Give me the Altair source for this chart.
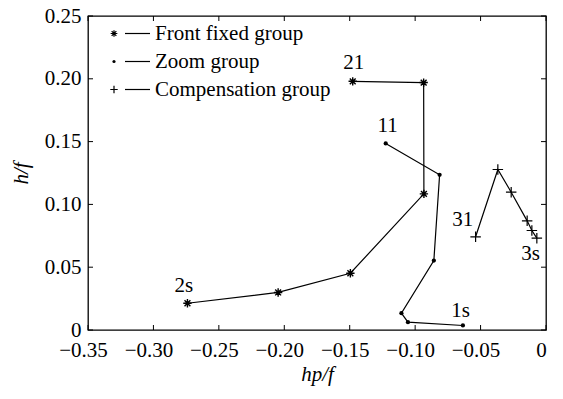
import altair as alt
import pandas as pd

# ---- data ----
front_x = [-0.274, -0.2047, -0.1495, -0.0933, -0.0935, -0.1477]
front_y = [0.0213, 0.0299, 0.0452, 0.1084, 0.197, 0.198]
zoom_x = [-0.1225, -0.0813, -0.0857, -0.1105, -0.1055, -0.0635]
zoom_y = [0.1485, 0.1236, 0.0553, 0.0134, 0.0062, 0.0036]
comp_x = [-0.0538, -0.0368, -0.0266, -0.0144, -0.0108, -0.0070]
comp_y = [0.0742, 0.1278, 0.1097, 0.0869, 0.0792, 0.0731]

label_text = ["2s", "21", "11", "1s", "31", "3s"]
label_x = [-0.2767, -0.147, -0.121, -0.0653, -0.0637, -0.0118]
label_y = [0.0354, 0.2122, 0.1623, 0.0155, 0.0872, 0.0609]

x_ticks = [-0.35, -0.30, -0.25, -0.20, -0.15, -0.10, -0.05, 0.0]
y_ticks = [0.0, 0.05, 0.10, 0.15, 0.20, 0.25]
legend_names = ["Front fixed group", "Zoom group", "Compensation group"]

W, H = 458, 314
FONT = "Liberation Serif"
FS = 21

ASTERISK = "M-1,0L1,0M0,-1L0,1M-0.7,-0.7L0.7,0.7M-0.7,0.7L0.7,-0.7"
PLUS = "M-1,0L1,0M0,-1L0,1"

rows = []
for g, xs_, ys_ in [("front", front_x, front_y), ("zoom", zoom_x, zoom_y), ("comp", comp_x, comp_y)]:
    for i, (a, b) in enumerate(zip(xs_, ys_)):
        rows.append({"group": g, "idx": i, "x": a, "y": b})
df = pd.DataFrame(rows)
labels_df = pd.DataFrame({"t": label_text, "x": label_x, "y": label_y})

xs = alt.Scale(domain=[-0.35, 0], nice=False, zero=False)
ys = alt.Scale(domain=[0, 0.25], nice=False, zero=False)

common = dict(grid=False, ticks=False, domain=False,
              labelFont=FONT, labelFontSize=FS, labelColor="black",
              titleFont=FONT, titleFontSize=FS, titleColor="black",
              titleFontWeight="normal", titleFontStyle="italic")

xaxis = alt.Axis(values=x_ticks, title="hp/f",
                 labelExpr="datum.value == 0 ? '0' : replace(format(datum.value, '.2f'), '-', '\u2212')",
                 labelOffset=-5, labelPadding=9, titlePadding=3, labelFlush=False, **common)
yaxis = alt.Axis(values=y_ticks, title="h/f",
                 labelExpr="datum.value == 0 ? '0' : format(datum.value, '.2f')",
                 labelPadding=7, titlePadding=13, labelFlush=False, **common)

X = alt.X("x:Q", scale=xs, axis=xaxis)
Y = alt.Y("y:Q", scale=ys, axis=yaxis)

lines = alt.Chart(df).mark_line(color="black", strokeWidth=1.2).encode(
    x=X, y=Y, detail="group:N", order="idx:Q")
pf = alt.Chart(df[df.group == "front"]).mark_point(
    shape=ASTERISK, size=70, filled=False, color="black", strokeWidth=1.4, opacity=1).encode(x=X, y=Y)
pz = alt.Chart(df[df.group == "zoom"]).mark_circle(size=18, color="black", opacity=1).encode(x=X, y=Y)
pc = alt.Chart(df[df.group == "comp"]).mark_point(
    shape=PLUS, size=110, filled=False, color="black", strokeWidth=1.2, opacity=1).encode(x=X, y=Y)
txt = alt.Chart(labels_df).mark_text(font=FONT, fontSize=FS, color="black").encode(
    x=X, y=Y, text="t:N")

xt = pd.DataFrame({"x": x_ticks})
yt = pd.DataFrame({"y": y_ticks})
tb = alt.Chart(xt).mark_rule(color="black", strokeWidth=1).encode(x=X, y=alt.value(H), y2=alt.value(H - 5))
tt = alt.Chart(xt).mark_rule(color="black", strokeWidth=1).encode(x=X, y=alt.value(0), y2=alt.value(5))
tl = alt.Chart(yt).mark_rule(color="black", strokeWidth=1).encode(y=Y, x=alt.value(0), x2=alt.value(5))
tr = alt.Chart(yt).mark_rule(color="black", strokeWidth=1).encode(y=Y, x=alt.value(W), x2=alt.value(W - 5))

leg_layers = []
shapes = [("path", ASTERISK, 45), ("circle", None, 10), ("path", PLUS, 55)]
for i, name in enumerate(legend_names):
    py = 17.5 + 28 * i
    d = pd.DataFrame({"name": [name]})
    kind, path, sz = shapes[i]
    if kind == "circle":
        m = alt.Chart(d).mark_circle(size=sz, color="black", opacity=1)
    else:
        m = alt.Chart(d).mark_point(shape=path, size=sz, filled=False, color="black", strokeWidth=1.2, opacity=1)
    leg_layers.append(m.encode(x=alt.value(26), y=alt.value(py)))
    leg_layers.append(alt.Chart(d).mark_rule(color="black", strokeWidth=1.2).encode(
        x=alt.value(37), x2=alt.value(62), y=alt.value(py)))
    leg_layers.append(alt.Chart(d).mark_text(font=FONT, fontSize=FS, color="black", align="left",
                                             baseline="middle").encode(
        x=alt.value(67), y=alt.value(py), text="name:N"))

chart = alt.layer(lines, pf, pz, pc, txt, tb, tt, tl, tr, *leg_layers).properties(
    width=W, height=H,
    autosize=alt.AutoSizeParams(type="none"),
    padding={"left": 80, "top": 8, "right": 9, "bottom": 61},
    background="white",
).configure_view(stroke="black", strokeWidth=1.3)

chart.save("out.html", embed_options={"renderer": "svg", "actions": False})
